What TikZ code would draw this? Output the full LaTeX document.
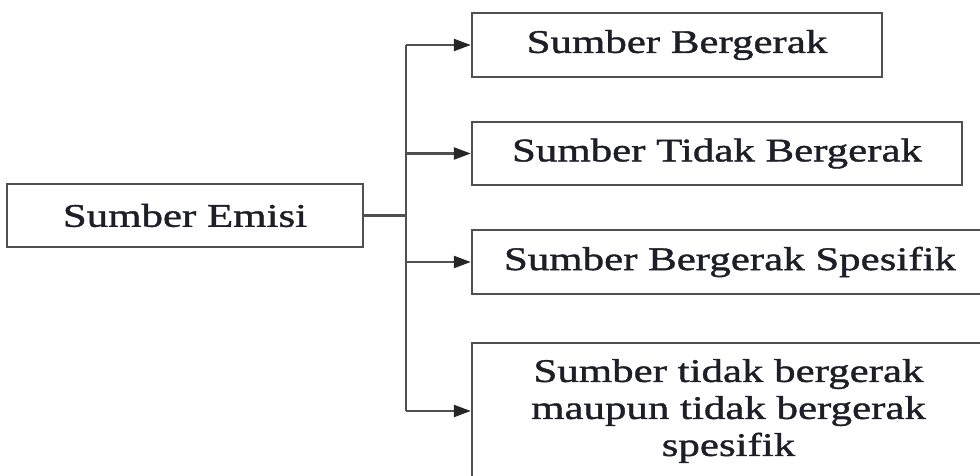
\documentclass[tikz,border=0pt]{standalone}
\usepackage{fontspec}
\setmainfont[FakeStretch=1.3,FakeBold=1.2]{Liberation Serif}
\usetikzlibrary{arrows.meta}
\definecolor{linegray}{HTML}{505050}
\definecolor{txt}{HTML}{1E1E28}
\begin{document}
\begin{tikzpicture}[x=1pt,y=-1pt,
  box/.style={draw=linegray, line width=2.4pt, fill=white, inner sep=0pt,
    text=txt, font=\fontsize{33}{37}\selectfont, align=center},
  conn/.style={draw=linegray, line width=2.4pt},
  arr/.style={conn, -{Triangle[length=17pt,width=12pt,fill=black!85,color=black!85]}}]
\useasboundingbox (0,0) rectangle (980,476);
\clip (0,0) rectangle (980,476);
\fill[white] (0,0) rectangle (980,476);
\node[box, minimum width=356pt, minimum height=63pt] (src) at (185,215.5) {Sumber Emisi};
\node[box, minimum width=410pt, minimum height=64pt] (b1) at (677,45) {Sumber Bergerak};
\node[box, minimum width=490pt, minimum height=63pt] (b2) at (717,153.5) {Sumber Tidak Bergerak};
\node[box, minimum width=516pt, minimum height=64pt] (b3) at (730,262) {Sumber Bergerak Spesifik};
\node[box, minimum width=513pt, minimum height=136pt] (b4) at (728.5,411) {Sumber tidak bergerak\\maupun tidak bergerak\\spesifik};
\coordinate (spine) at (406,0);
\draw[conn] (src.east) -- (src.east -| spine);
\draw[conn] (b1.west -| spine) -- (b4.west -| spine);
\draw[arr] (b1.west -| spine) -- (b1.west);
\draw[arr] (b2.west -| spine) -- (b2.west);
\draw[arr] (b3.west -| spine) -- (b3.west);
\draw[arr] (b4.west -| spine) -- (b4.west);
\end{tikzpicture}
\end{document}
